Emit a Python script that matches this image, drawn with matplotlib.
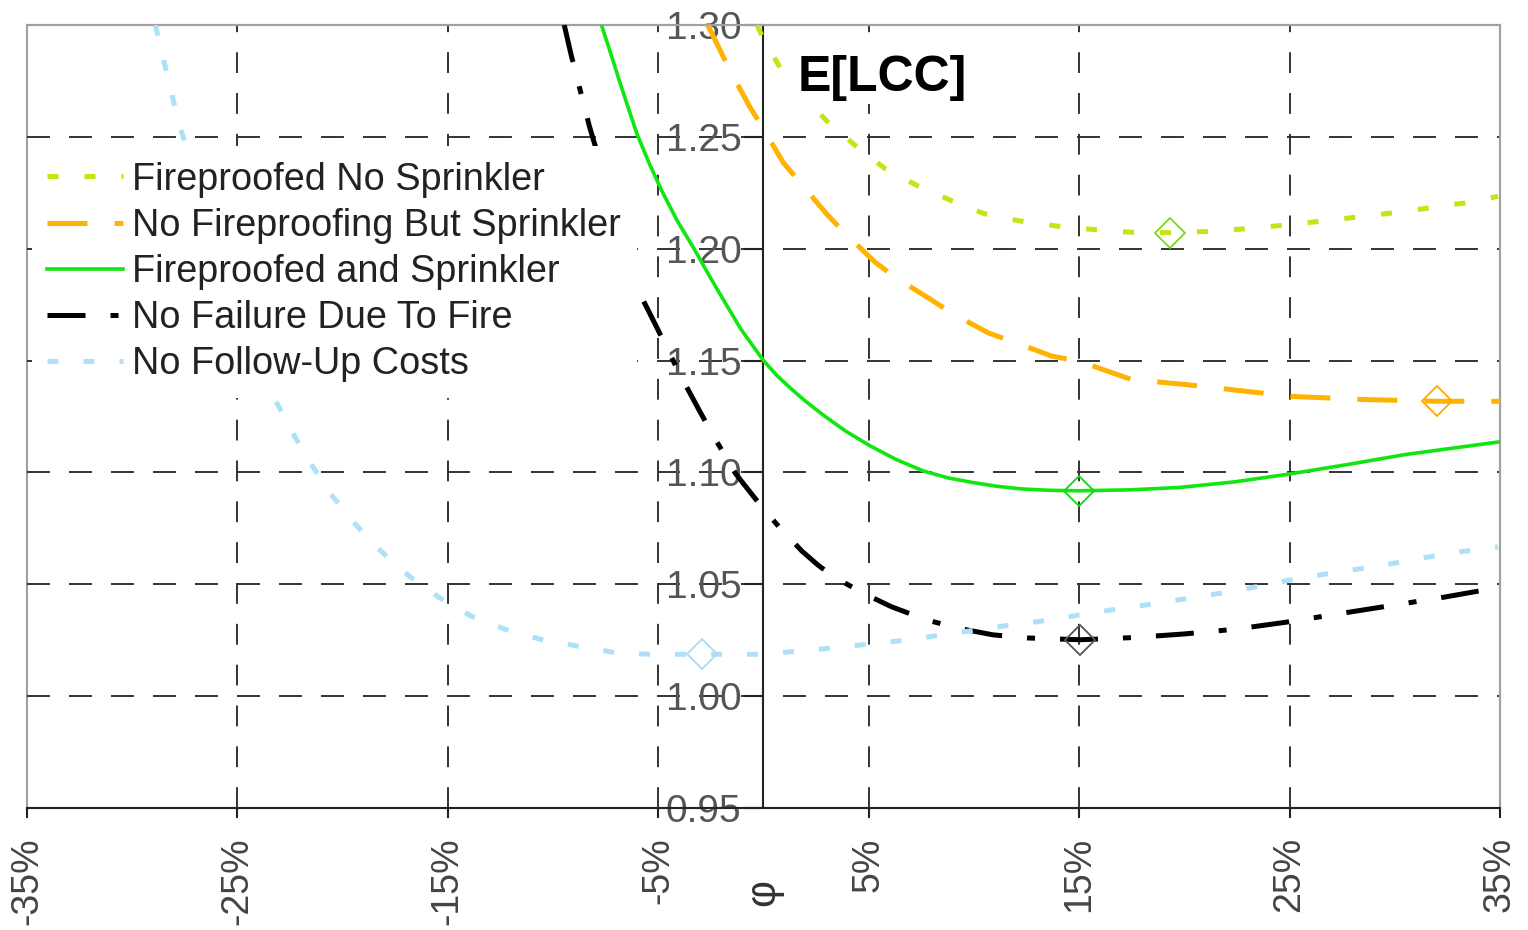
import matplotlib
matplotlib.use('Agg')
import matplotlib.pyplot as plt
from matplotlib.patches import Rectangle

plt.rcParams['font.family'] = ['Liberation Sans', 'DejaVu Sans']

# axis ticks
x_ticks = [-35, -25, -15, -5, 5, 15, 25, 35]
y_ticks = [0.95, 1.00, 1.05, 1.10, 1.15, 1.20, 1.25, 1.30]
x_grid = [-25, -15, -5, 5, 15, 25]
y_grid = [1.00, 1.05, 1.10, 1.15, 1.20, 1.25]

# Fireproofed No Sprinkler
fns_x = [-0.3, 0.0, 1.0, 2.0, 3.12, 4.53, 5.78, 7.27, 8.9, 10.47, 12.19, 14.04,
         15.8, 17.57, 19.3, 21.1, 23.0, 24.6, 26.4, 29.9, 33.3, 34.9]
fns_y = [1.300, 1.2935, 1.2776, 1.267, 1.256, 1.2448, 1.2358, 1.2284, 1.2216, 1.2157,
         1.2124, 1.2100, 1.2085, 1.2073, 1.2072, 1.2077, 1.2090, 1.2104, 1.2122,
         1.2160, 1.2204, 1.2234]

# No Fireproofing But Sprinkler
nfs_x = [-2.65, -2.18, -1.61, -0.65, 0.0, 0.94, 1.72, 3.05, 3.9, 5.3, 6.25, 8.0,
         9.07, 10.7, 11.98, 13.7, 15.0, 17.5, 20.06, 25.1, 28.5, 32.0, 35.0]
nfs_y = [1.300, 1.291, 1.280, 1.2634, 1.2535, 1.2385, 1.2298, 1.2150, 1.2067, 1.1940,
         1.1873, 1.1770, 1.1705, 1.1623, 1.1580, 1.1520, 1.1497, 1.1415, 1.1393,
         1.1340, 1.1326, 1.1318, 1.1318]

# Fireproofed and Sprinkler
fs_x = [-7.7, -7.25, -6.84, -6.4, -6.0, -5.4, -4.84, -4.1, -3.3, -2.55, -1.8, -1.07,
        -0.5, 0.0, 0.65, 1.3, 2.0, 2.86, 3.9, 5.06, 6.3, 7.58, 8.75, 9.94, 11.1,
        12.3, 13.6, 15.0, 17.4, 19.8, 22.4, 25.0, 27.8, 30.5, 35.0]
fs_y = [1.300, 1.2870, 1.2748, 1.2622, 1.2510, 1.2375, 1.2260, 1.2125, 1.2000, 1.1875,
        1.1755, 1.1640, 1.1565, 1.1500, 1.1432, 1.1375, 1.1318, 1.1255, 1.1185,
        1.1119, 1.1058, 1.1007, 1.0976, 1.0955, 1.0938, 1.0926, 1.0920, 1.0918,
        1.0922, 1.0933, 1.0958, 1.0993, 1.1036, 1.1080, 1.1137]

# No Failure Due To Fire
nf_x = [-9.47, -9.15, -8.27, -5.96, -5.16, -3.96, -3.04, -2.36, -1.33, -0.2, 0.75,
        1.83, 2.6, 3.33, 4.74, 6.07, 7.74, 9.23, 10.9, 12.56, 15.06, 17.6, 20.0,
        22.4, 24.8, 27.2, 29.7, 32.2, 34.0]
nf_y = [1.300, 1.287, 1.2546, 1.1815, 1.1665, 1.1436, 1.1275, 1.116, 1.0995, 1.086,
        1.0755, 1.0648, 1.0585, 1.0534, 1.046, 1.040, 1.0341, 1.0304, 1.0274, 1.026,
        1.0252, 1.0262, 1.0278, 1.0299, 1.0330, 1.0366, 1.0403, 1.044, 1.047]

# No Follow-Up Costs
nc_x = [-28.9, -28.6, -28.2, -27.77, -23.27, -22.4, -21.45, -20.5, -19.4, -18.2,
        -16.85, -15.4, -13.9, -12.26, -10.6, -8.85, -7.0, -5.4, -2.9, 0.0, 3.24,
        5.07, 6.74, 8.57, 10.2, 11.9, 13.7, 15.3, 18.9, 22.4, 25.6, 29.1, 32.7, 34.9]
nc_y = [1.300, 1.288, 1.2724, 1.2553, 1.1336, 1.118, 1.103, 1.0896, 1.0769, 1.065,
        1.0537, 1.044, 1.0358, 1.0298, 1.0254, 1.0224, 1.0194, 1.0187, 1.0187,
        1.0187, 1.0215, 1.0233, 1.025, 1.0275, 1.0297, 1.032, 1.0341, 1.0368,
        1.0418, 1.047, 1.053, 1.058, 1.064, 1.0667]

# optimum markers
opt_x = [19.3, 32.0, 15.0, 15.06, -2.9]
opt_y = [1.2072, 1.1318, 1.0918, 1.0252, 1.0187]

fig = plt.figure(figsize=(15.28, 9.30), dpi=100)
ax = fig.add_axes([0.01767, 0.1312, 0.964, 0.8419])
ax.set_xlim(-35, 35)
ax.set_ylim(0.95, 1.30)

for v in x_grid:
    ax.axvline(v, color='#333333', lw=1.4, linestyle=(0, (10.7, 10.3)), zorder=1)
for v in y_grid:
    ax.axhline(v, color='#333333', lw=1.4, linestyle=(0, (11.8, 9.8)), zorder=1)

series = [
    (fns_x, fns_y, 'Fireproofed No Sprinkler', '#c4e416', 3.6, (0, (2.2, 5.2)), '#7ad81e'),
    (nfs_x, nfs_y, 'No Fireproofing But Sprinkler', '#ffb300', 3.6, (0, (8.0, 5.4)), '#ffa800'),
    (fs_x, fs_y, 'Fireproofed and Sprinkler', '#11e611', 2.6, '-', '#11d611'),
    (nf_x, nf_y, 'No Failure Due To Fire', '#000000', 3.6, (0, (7.6, 5.0, 1.6, 5.0)), '#555555'),
    (nc_x, nc_y, 'No Follow-Up Costs', '#aee0f8', 3.6, (0, (2.2, 5.0)), '#a6dcf6'),
]
for i, (xs, ys, name, col, lw, ls, mcol) in enumerate(series):
    ax.plot(xs, ys, color=col, lw=lw, linestyle=ls, label=name, zorder=3)
    ax.plot(opt_x[i], opt_y[i], marker='D', ms=15, mfc='none', mec=mcol, mew=1.3,
            linestyle='none', zorder=4)

# frame and axes
for s in ['top', 'right']:
    ax.spines[s].set_color('#a0a0a0')
    ax.spines[s].set_linewidth(1.5)
ax.spines['left'].set_position(('data', 0))
ax.spines['left'].set_color('#222222')
ax.spines['left'].set_linewidth(1.5)
ax.spines['bottom'].set_color('#222222')
ax.spines['bottom'].set_linewidth(1.5)
ax.add_patch(Rectangle((0, 0), 1, 1, transform=ax.transAxes, fill=False,
                       edgecolor='#a0a0a0', lw=1.5, zorder=0, clip_on=False))

ax.set_xticks(x_ticks)
ax.set_xticklabels([f'{v}%' for v in x_ticks], rotation=90)
ax.set_yticks(y_ticks)
ax.set_yticklabels([f'{v:.2f}' for v in y_ticks])
ax.tick_params(axis='x', direction='out', length=7, width=1.5, pad=14,
               labelsize=27, labelcolor='#444444', color='#222222')
ax.tick_params(axis='y', direction='out', length=14, width=1.5, pad=2,
               labelsize=28, labelcolor='#555555', color='#222222')

ax.set_xlabel('φ', fontsize=30, color='#333333', rotation=90, va='center', ha='center')
ax.xaxis.set_label_coords(0.5, -0.108)

ax.text(1.6, 1.2763, 'E[LCC]', fontsize=36, fontweight='bold', va='center', ha='left',
        bbox=dict(facecolor='white', edgecolor='none', pad=2), zorder=5)

leg = ax.legend(loc='upper left', bbox_to_anchor=(0.0034, 0.845), fontsize=27.3,
                frameon=True, fancybox=False, framealpha=1, facecolor='white',
                edgecolor='none', handlelength=2.0, handletextpad=0.25,
                labelspacing=0.27, borderpad=0.4, borderaxespad=0)
for t in leg.get_texts():
    t.set_color('#222222')
leg.set_zorder(6)

fig.savefig('out.png', dpi=100)
